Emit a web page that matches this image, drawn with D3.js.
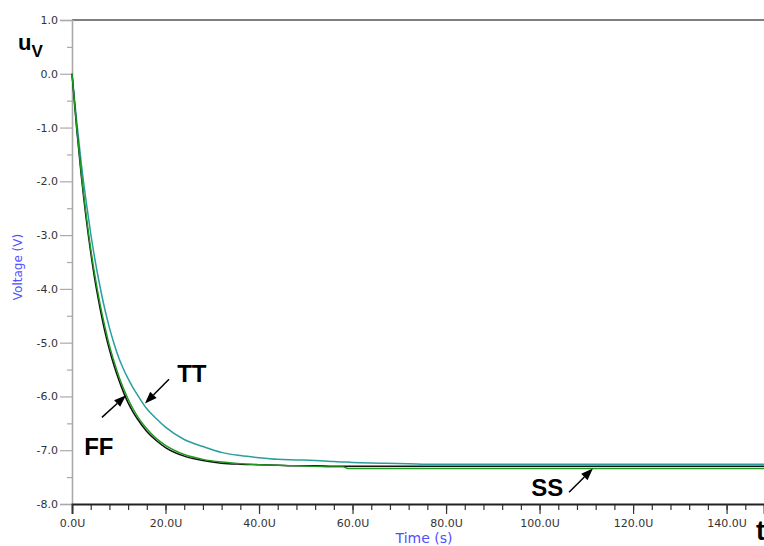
<!DOCTYPE html>
<html>
<head>
<meta charset="utf-8">
<script src="https://cdn.jsdelivr.net/npm/d3@7"></script>
<style>
  html, body { margin: 0; padding: 0; background: #fff; overflow: hidden; }
  svg { display: block; }
</style>
</head>
<body>
<svg id="chart" width="764" height="546"></svg>
<script>
// Sample times (µs) and node voltage for each process corner
const timeUs = [0, 1, 2, 3, 4, 5, 6, 7, 8, 9, 10, 11, 12, 13, 14, 16, 18, 20, 24, 28, 32, 36, 40, 44, 48, 52, 56, 58, 59, 60, 66, 72, 77, 90, 110, 130, 148];
const voltTT = [0, -0.88, -1.68, -2.36, -2.97, -3.50, -3.96, -4.37, -4.72, -5.02, -5.28, -5.49, -5.67, -5.83, -5.97, -6.23, -6.41, -6.57, -6.80, -6.93, -7.04, -7.10, -7.14, -7.17, -7.18, -7.19, -7.21, -7.22, -7.22, -7.23, -7.24, -7.25, -7.26, -7.26, -7.26, -7.26, -7.26];
const voltFF = [0, -1.02, -1.91, -2.67, -3.32, -3.89, -4.36, -4.78, -5.13, -5.43, -5.69, -5.92, -6.12, -6.28, -6.42, -6.65, -6.82, -6.95, -7.11, -7.19, -7.24, -7.26, -7.27, -7.28, -7.29, -7.29, -7.30, -7.30, -7.30, -7.30, -7.30, -7.30, -7.30, -7.30, -7.30, -7.30, -7.30];
const voltSS = [0, -0.99, -1.86, -2.60, -3.25, -3.80, -4.28, -4.69, -5.05, -5.35, -5.62, -5.85, -6.05, -6.22, -6.37, -6.60, -6.78, -6.91, -7.08, -7.17, -7.22, -7.25, -7.27, -7.28, -7.29, -7.30, -7.31, -7.31, -7.34, -7.34, -7.34, -7.34, -7.34, -7.34, -7.34, -7.34, -7.34];

// Axis ticks
const xMajorTicks = [0, 20, 40, 60, 80, 100, 120, 140];
const xMinorTicks = d3.range(0, 149, 4);
const yMajorTicks = [1, 0, -1, -2, -3, -4, -5, -6, -7, -8];
const yMinorTicks = [0.5, -0.5, -1.5, -2.5, -3.5, -4.5, -5.5, -6.5, -7.5];

// Corner call-outs: label anchor and arrow (tail -> head) in data units
const calloutNames = ["TT", "FF", "SS"];
const calloutLabelAt = [[22.5, -5.74], [2.6, -7.09], [98.2, -7.86]];
const calloutArrowFrom = [[20.75, -5.68], [6.4, -6.39], [106.3, -7.78]];
const calloutArrowTo = [[15.6, -6.13], [11.55, -5.98], [111.4, -7.34]];

const svg = d3.select("#chart");
const x = d3.scaleLinear().domain([0, 148]).range([72, 764]);
const y = d3.scaleLinear().domain([-8, 1]).range([504, 20]);

const tickFont = "DejaVu Sans, Verdana, sans-serif";

// Top frame line
svg.append("line")
  .attr("x1", x(0)).attr("x2", x(148))
  .attr("y1", y(1)).attr("y2", y(1))
  .attr("stroke", "#555").attr("stroke-width", 1.6);

// Y axis: minor ticks then major ticks with labels
svg.append("g")
  .attr("transform", `translate(${x(0)},0)`)
  .call(d3.axisLeft(y).tickValues(yMinorTicks).tickSize(5).tickFormat(""))
  .call(g => g.select(".domain").remove())
  .call(g => g.selectAll("line").attr("stroke", "#aaa").attr("stroke-width", 1.2));

const yAxis = svg.append("g")
  .attr("transform", `translate(${x(0)},0)`)
  .call(d3.axisLeft(y).tickValues(yMajorTicks).tickSize(12).tickPadding(2)
    .tickFormat(d => d.toFixed(1)));
yAxis.select(".domain").attr("stroke", "#aaa").attr("stroke-width", 1.6);
yAxis.selectAll("line").attr("stroke", "#aaa").attr("stroke-width", 1.2);
yAxis.selectAll("text")
  .attr("font-family", tickFont).attr("font-size", 11).attr("fill", "#333");

// X axis: minor ticks then major ticks with labels
svg.append("g")
  .attr("transform", `translate(0,${y(-8)})`)
  .call(d3.axisBottom(x).tickValues(xMinorTicks).tickSize(6).tickFormat(""))
  .call(g => g.select(".domain").remove())
  .call(g => g.selectAll("line").attr("stroke", "#333").attr("stroke-width", 1.2));

const xAxis = svg.append("g")
  .attr("transform", `translate(0,${y(-8)})`)
  .call(d3.axisBottom(x).tickValues(xMajorTicks).tickSize(10).tickPadding(5)
    .tickFormat(d => d.toFixed(1) + "U"));
xAxis.select(".domain").attr("stroke", "#222").attr("stroke-width", 1.8);
xAxis.selectAll("line").attr("stroke", "#333").attr("stroke-width", 1.2);
xAxis.selectAll("text")
  .attr("font-family", tickFont).attr("font-size", 11).attr("fill", "#333");

// Axis titles
svg.append("text")
  .attr("transform", "translate(22,267) rotate(-90)")
  .attr("text-anchor", "middle")
  .attr("font-family", tickFont).attr("font-size", 12).attr("fill", "#5050ff")
  .text("Voltage (V)");
svg.append("text")
  .attr("x", 424).attr("y", 543)
  .attr("text-anchor", "middle")
  .attr("font-family", tickFont).attr("font-size", 14).attr("fill", "#5050ff")
  .text("Time (s)");

// Waveforms
const seriesList = [
  { name: "TT", values: voltTT, color: "#2a9e9e", width: 1.5 },
  { name: "FF", values: voltFF, color: "#111111", width: 1.5 },
  { name: "SS", values: voltSS, color: "#1d9a1d", width: 1.4 }
];
const line = d3.line()
  .x(d => x(d[0]))
  .y(d => y(d[1]))
  .curve(d3.curveMonotoneX);
svg.append("g").selectAll("path")
  .data(seriesList)
  .join("path")
  .attr("d", s => line(timeUs.map((t, i) => [t, s.values[i]])))
  .attr("fill", "none")
  .attr("stroke", s => s.color)
  .attr("stroke-width", s => s.width)
  .attr("stroke-linejoin", "round");

// Axis symbols
const sym = svg.append("g").attr("font-family", "Liberation Sans, Arial, sans-serif")
  .attr("font-weight", "bold").attr("fill", "#000");
const uv = sym.append("text").attr("x", 18).attr("y", 50).attr("font-size", 22);
uv.append("tspan").text("u");
uv.append("tspan").attr("font-size", 17).attr("dy", 7).text("V");
sym.append("text").attr("x", 756).attr("y", 540).attr("font-size", 27).text("t");

// Corner call-outs with arrows
const ann = svg.append("g");
calloutNames.forEach((name, i) => {
  const [lx, ly] = calloutLabelAt[i];
  ann.append("text")
    .attr("x", x(lx)).attr("y", y(ly))
    .attr("font-family", "Liberation Sans, Arial, sans-serif")
    .attr("font-weight", "bold").attr("font-size", 24).attr("fill", "#000")
    .text(name);
  const x0 = x(calloutArrowFrom[i][0]), y0 = y(calloutArrowFrom[i][1]);
  const x1 = x(calloutArrowTo[i][0]), y1 = y(calloutArrowTo[i][1]);
  const ang = Math.atan2(y1 - y0, x1 - x0);
  const headLen = 12, headHalf = 4.5;
  const bx = x1 - headLen * Math.cos(ang), by = y1 - headLen * Math.sin(ang);
  ann.append("line")
    .attr("x1", x0).attr("y1", y0).attr("x2", bx).attr("y2", by)
    .attr("stroke", "#000").attr("stroke-width", 1.5);
  const px = -Math.sin(ang) * headHalf, py = Math.cos(ang) * headHalf;
  ann.append("path")
    .attr("d", `M${x1},${y1}L${bx + px},${by + py}L${bx - px},${by - py}Z`)
    .attr("fill", "#000");
});
</script>
</body>
</html>
